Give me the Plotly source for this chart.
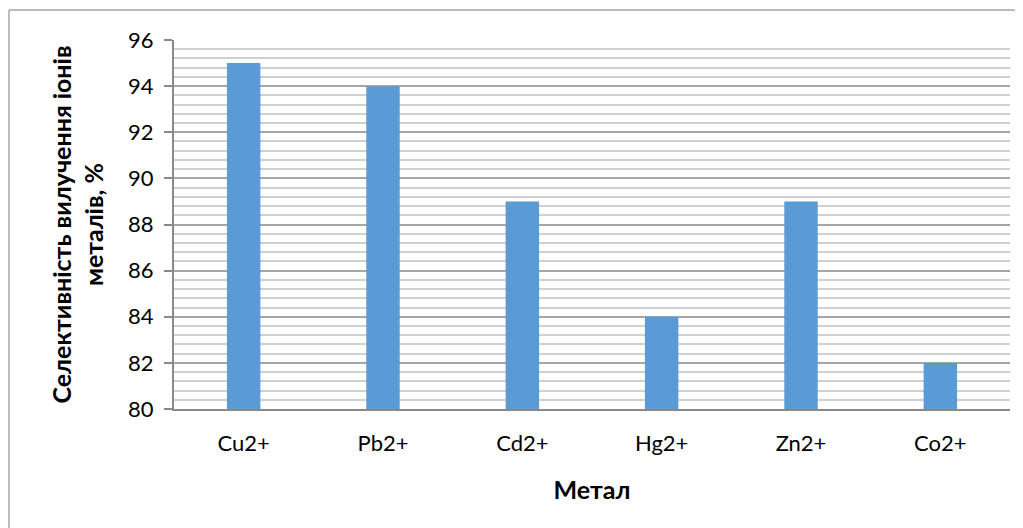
import plotly.graph_objects as go

metals = ["Cu2+", "Pb2+", "Cd2+", "Hg2+", "Zn2+", "Co2+"]
selectivity = [95, 94, 89, 84, 89, 82]
y_ticks = [80, 82, 84, 86, 88, 90, 92, 94, 96]

fig = go.Figure()
fig.add_trace(go.Bar(x=metals, y=selectivity, marker_color="#5B9BD5",
                     marker_line_width=0, width=0.24))

font_family = "Lato, 'Liberation Sans', sans-serif"
# page has an ~8px body offset; figure sized to fit the window
fig.update_layout(
    width=1015, height=520,
    margin=dict(l=166, r=13, t=32, b=119),
    paper_bgcolor="white", plot_bgcolor="white",
    showlegend=False,
    font=dict(family=font_family, color="black"),
    xaxis=dict(
        showline=True, linecolor="#898989", linewidth=2,
        ticks="", tickfont=dict(size=22), ticklabelstandoff=14,
        title=dict(text="<b>Метал</b>", font=dict(size=25), standoff=26),
    ),
    yaxis=dict(
        range=[80, 96], tickvals=y_ticks,
        showline=True, linecolor="#898989", linewidth=2,
        ticks="outside", ticklen=8, tickcolor="#898989", tickwidth=1.5,
        tickfont=dict(size=22), ticklabelstandoff=6,
        showgrid=True, gridcolor="#a6a6a6", gridwidth=1.5,
        minor=dict(dtick=0.4, showgrid=True, gridcolor="#d0d0d0", gridwidth=1.5, ticks=""),
        zeroline=False,
        title=dict(text="<b>Селективність вилучення іонів<br>металів, %</b>",
                   font=dict(size=25), standoff=17),
    ),
    shapes=[
        dict(type="line", xref="paper", yref="paper",
             x0=-0.1974, x1=1.5, y0=1.0813, y1=1.0813,
             line=dict(color="#a6a6a6", width=1.5), layer="below"),
        dict(type="line", xref="paper", yref="paper",
             x0=-0.1974, x1=-0.1974, y0=-0.6, y1=1.0813,
             line=dict(color="#a6a6a6", width=1.5), layer="below"),
    ],
)

fig.write_html("out.html")
